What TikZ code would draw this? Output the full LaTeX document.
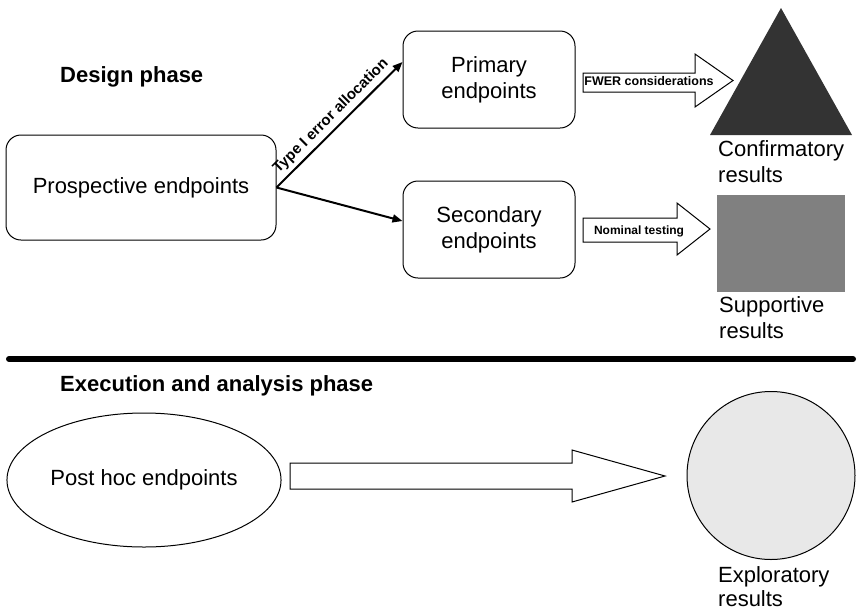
\documentclass[tikz,border=0pt]{standalone}
\usepackage{fontspec}
\setmainfont{Liberation Sans}
\usetikzlibrary{arrows.meta,shapes.geometric}
\definecolor{darkfill}{HTML}{333333}
\definecolor{midgray}{HTML}{808080}
\definecolor{lightfill}{HTML}{E8E8E8}
\tikzset{
  bigtext/.style={font=\fontsize{22}{26}\selectfont},
  headtext/.style={font=\fontsize{22}{26}\selectfont\bfseries, inner sep=0},
  smallbold/.style={font=\fontsize{12.5}{15}\selectfont\bfseries, inner sep=0},
  slopedlabel/.style={font=\fontsize{15}{18}\selectfont\bfseries, inner sep=0},
  endbox/.style={draw, line width=1, rounded corners=15, align=center, bigtext},
  caption/.style={bigtext, align=left, anchor=north west, inner sep=0},
  blockarrow/.style={draw, line width=1, fill=white, line join=miter},
  connector/.style={line width=2, -{Triangle[length=10,width=8]}}
}
\begin{document}
\begin{tikzpicture}[x=1pt, y=-1pt]
  \useasboundingbox (0,0) rectangle (859,611);

  % ---- design phase ----
  \node[headtext, anchor=base west] (design) at (60,82) {Design phase};

  \node[endbox, minimum width=270, minimum height=105] (pros) at (141,187.5) {Prospective endpoints};
  \node[endbox, minimum width=172, minimum height=97] (prim) at (489,79.5) {Primary\\endpoints};
  \node[endbox, minimum width=172, minimum height=97] (sec) at (489,229.5) {Secondary\\endpoints};

  \draw[connector] (pros.east) -- node[slopedlabel, sloped, above=4, pos=0.5] (alloc) {Type I error allocation} ([yshift=17.5]prim.west);
  \draw[connector] (pros.east) -- ([yshift=8.5]sec.west);

  % block arrows towards the result shapes
  \draw[blockarrow] (583,73) -- (695,73) -- (695,54) -- (733,80.5) -- (695,107) -- (695,92) -- (583,92) -- cycle;
  \node[smallbold] (fwer) at (649,81) {FWER considerations};

  \draw[blockarrow] (583,218) -- (677,218) -- (677,203) -- (710,229) -- (677,255) -- (677,242) -- (583,242) -- cycle;
  \node[smallbold, font=\fontsize{12}{14}\selectfont\bfseries] (nominal) at (639,231) {Nominal testing};

  % confirmatory results
  \fill[darkfill] (781,8) -- (852,135) -- (710,135) -- cycle;
  \node[caption] (conf) at (718,140) {Confirmatory\\results};

  % supportive results
  \fill[midgray] (717,195) rectangle (845,292);
  \node[caption] (supp) at (719,296) {Supportive\\results};

  % ---- separator ----
  \draw[line width=6, line cap=round] (9,359) -- (853,359);

  % ---- execution and analysis phase ----
  \node[headtext, anchor=base west] (exec) at (60,391) {Execution and analysis phase};

  \node[draw, ellipse, line width=1, minimum width=262, minimum height=134, bigtext] (posthoc) at (144,480) {Post hoc endpoints};

  \draw[blockarrow] (290,463) -- (572,463) -- (572,450) -- (665,476) -- (572,502) -- (572,489) -- (290,489) -- cycle;

  \draw[line width=1, fill=lightfill] (771,475.5) circle[radius=84];
  \node[caption, font=\fontsize{22}{24}\selectfont] (expl) at (718,566) {Exploratory\\results};
\end{tikzpicture}
\end{document}
